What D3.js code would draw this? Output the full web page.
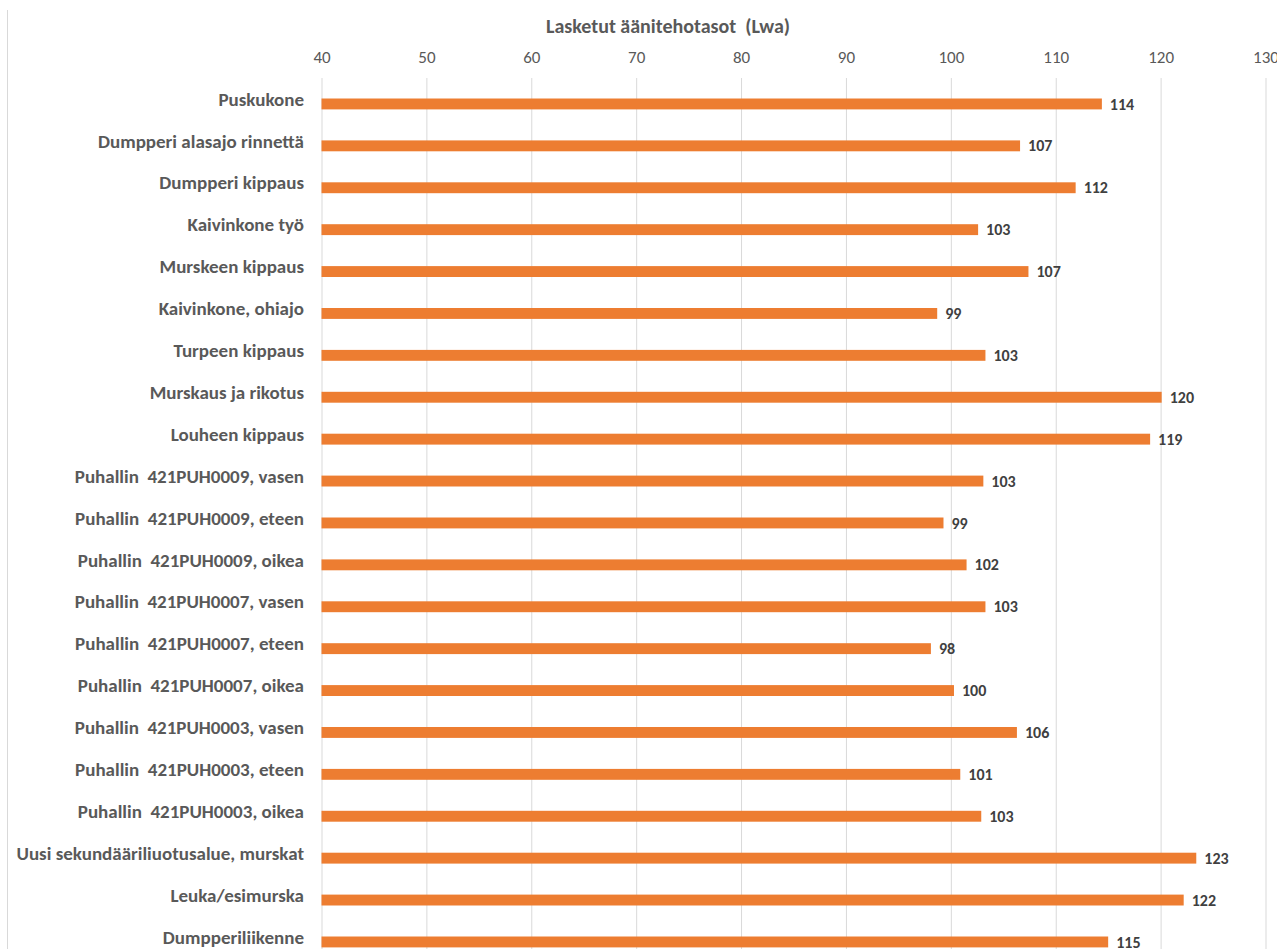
<!DOCTYPE html>
<html lang="fi">
<head>
  <meta charset="UTF-8">
  <title>Lasketut äänitehotasot</title>
  <style>
    body {
      margin: 0;
      background: #fff;
      overflow: hidden;
    }
    svg text {
      font-family: Carlito, "Open Sans", "Liberation Sans", sans-serif;
      white-space: pre;
    }
    .cat {
      font-size: 19px;
      font-weight: bold;
      fill: #595959;
    }
    .val {
      font-size: 16px;
      font-weight: bold;
      fill: #404040;
    }
    .tick text {
      font-size: 17px;
      fill: #595959;
    }
  </style>
  <script src="https://d3js.org/d3.v7.min.js"></script>
</head>
<body>
  <svg width="1277" height="949"></svg>
  <script>
    const categories = [
      "Puskukone",
      "Dumpperi alasajo rinnettä",
      "Dumpperi kippaus",
      "Kaivinkone työ",
      "Murskeen kippaus",
      "Kaivinkone, ohiajo",
      "Turpeen kippaus",
      "Murskaus ja rikotus",
      "Louheen kippaus",
      "Puhallin  421PUH0009, vasen",
      "Puhallin  421PUH0009, eteen",
      "Puhallin  421PUH0009, oikea",
      "Puhallin  421PUH0007, vasen",
      "Puhallin  421PUH0007, eteen",
      "Puhallin  421PUH0007, oikea",
      "Puhallin  421PUH0003, vasen",
      "Puhallin  421PUH0003, eteen",
      "Puhallin  421PUH0003, oikea",
      "Uusi sekundääriliuotusalue, murskat",
      "Leuka/esimurska",
      "Dumpperiliikenne"
    ];
    const levels = [
      114.4, 106.6, 111.9, 102.6, 107.4, 98.7, 103.3, 120.1, 119.0,
      103.1, 99.3, 101.5, 103.3, 98.1, 100.3, 106.3, 100.9, 102.9,
      123.4, 122.2, 115.0
    ];
    const xTicks = [40, 50, 60, 70, 80, 90, 100, 110, 120, 130];
    const title = "Lasketut äänitehotasot  (Lwa)";

    const svg = d3.select("svg");

    const x = d3.scaleLinear().domain([40, 130]).range([321.5, 1265.5]);
    // rows spaced ~41.9px, first bar centre at y=104
    const y = d3.scaleBand()
      .domain(categories)
      .range([83, 83 + 41.9 * categories.length])
      .paddingInner(0.74)
      .paddingOuter(0.37);

    // chart area border (left edge)
    svg.append("line")
      .attr("x1", 7.5).attr("x2", 7.5)
      .attr("y1", 10).attr("y2", 949)
      .attr("stroke", "#d9d9d9");

    svg.append("text")
      .attr("x", 668)
      .attr("y", 26)
      .attr("dy", "0.35em")
      .attr("text-anchor", "middle")
      .style("font-size", "20px")
      .style("font-weight", "bold")
      .style("fill", "#595959")
      .text(title);

    const axis = d3.axisTop(x)
      .tickValues(xTicks)
      .tickSize(-(949 - 78))
      .tickPadding(17);

    const gx = svg.append("g")
      .attr("transform", "translate(0,78)")
      .call(axis);
    gx.select(".domain").remove();
    gx.selectAll(".tick line").attr("stroke", "#d9d9d9");
    gx.selectAll(".tick text").attr("dy", "0.1em");

    svg.append("g")
      .selectAll("rect")
      .data(levels)
      .join("rect")
      .attr("x", x(40))
      .attr("y", (d, i) => y(categories[i]))
      .attr("width", d => x(d) - x(40))
      .attr("height", y.bandwidth())
      .attr("fill", "#ED7D31");

    svg.append("g")
      .selectAll("text")
      .data(levels)
      .join("text")
      .attr("class", "val")
      .attr("x", d => x(d) + 8)
      .attr("y", (d, i) => y(categories[i]) + y.bandwidth() / 2)
      .attr("dy", "0.35em")
      .text(d => d3.format(".0f")(d));

    svg.append("g")
      .selectAll("text")
      .data(categories)
      .join("text")
      .attr("class", "cat")
      .attr("x", 304)
      .attr("y", d => y(d) + y.bandwidth() / 2 - 5)
      .attr("dy", "0.35em")
      .attr("text-anchor", "end")
      .text(d => d);
  </script>
</body>
</html>
